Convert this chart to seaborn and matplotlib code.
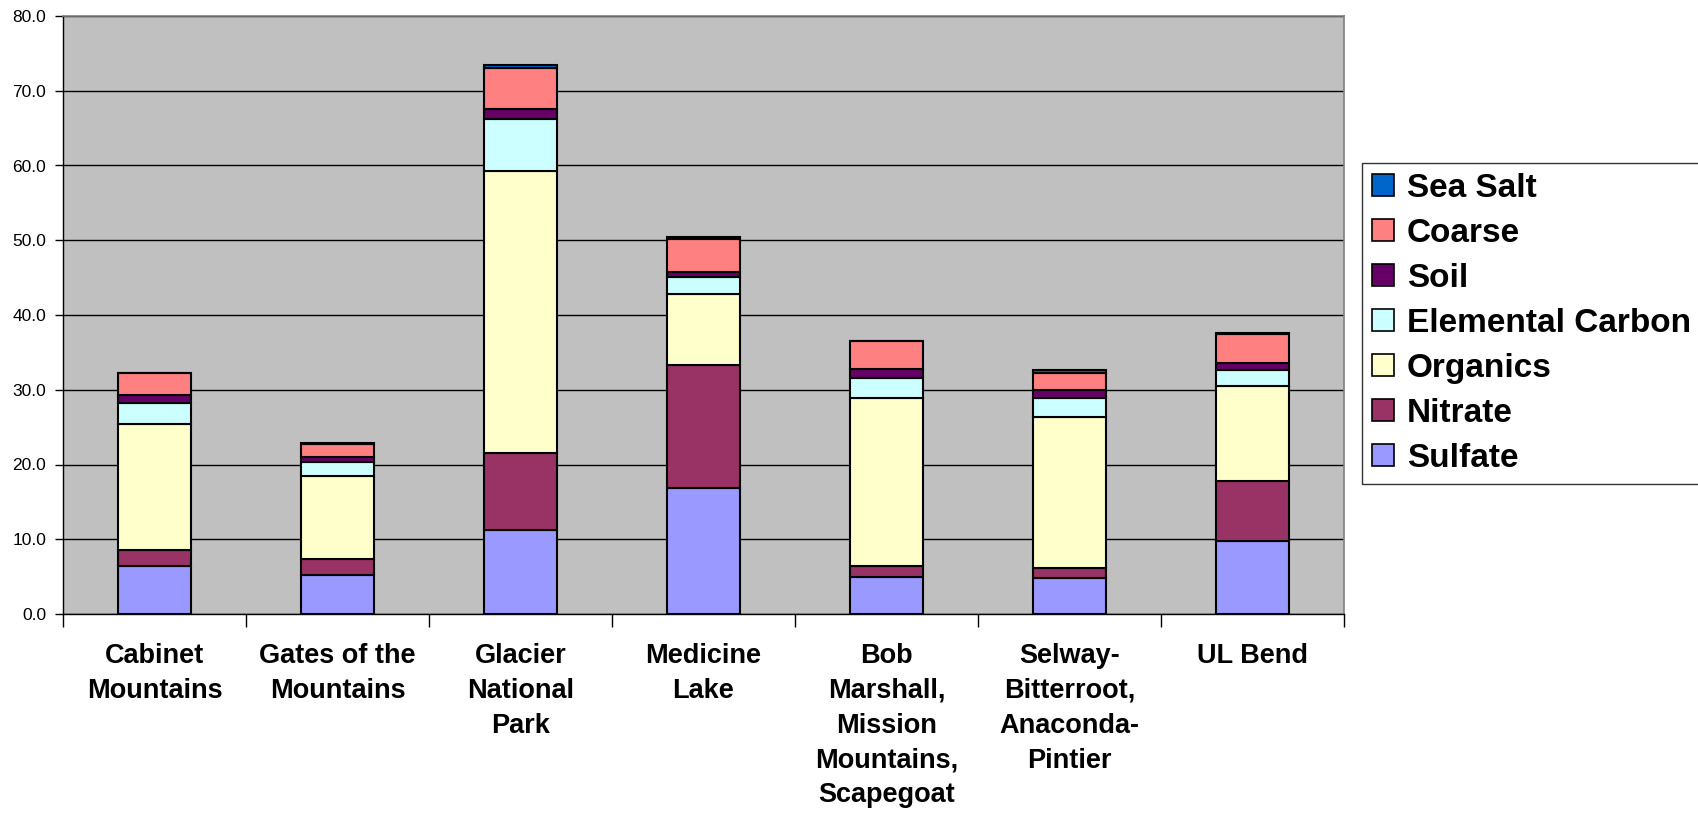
import numpy as np
import pandas as pd
import matplotlib
matplotlib.use("Agg")
import matplotlib.pyplot as plt
from matplotlib.patches import Patch
import seaborn as sns

sites = ["Cabinet\nMountains", "Gates of the\nMountains", "Glacier\nNational\nPark",
         "Medicine\nLake", "Bob\nMarshall,\nMission\nMountains,\nScapegoat",
         "Selway-\nBitterroot,\nAnaconda-\nPintier", "UL Bend"]

sulfate = [6.4, 5.2, 11.3, 16.9, 5.0, 4.8, 9.7]
nitrate = [2.2, 2.2, 10.2, 16.4, 1.4, 1.4, 8.1]
organics = [16.8, 11.0, 37.7, 9.5, 22.5, 20.2, 12.7]
elemental_carbon = [2.8, 1.9, 7.0, 2.3, 2.7, 2.5, 2.1]
soil = [1.1, 0.7, 1.4, 0.7, 1.2, 1.0, 1.0]
coarse = [2.9, 1.8, 5.5, 4.4, 3.7, 2.4, 3.9]
sea_salt = [0.05, 0.05, 0.4, 0.3, 0.05, 0.3, 0.05]

components = ["Sea Salt", "Coarse", "Soil", "Elemental Carbon", "Organics", "Nitrate", "Sulfate"]
colors = ["#0066CC", "#FF8080", "#660066", "#CCFFFF", "#FFFFCC", "#993366", "#9999FF"]
series = [sea_salt, coarse, soil, elemental_carbon, organics, nitrate, sulfate]

rows = []
for comp, vals in zip(components, series):
    for i, v in enumerate(vals):
        rows.append({"pos": i, "component": comp, "value": v})
df = pd.DataFrame(rows)

fig = plt.figure(figsize=(16.99, 8.17), dpi=100)
ax = fig.add_axes([63 / 1699, 1 - 614 / 817, (1344 - 63) / 1699, (614 - 16) / 817])
ax.set_facecolor("#C0C0C0")

# last hue level ends up at the bottom of the stack
sns.histplot(data=df, x="pos", weights="value", hue="component", hue_order=components,
             palette=dict(zip(components, colors)), multiple="stack", discrete=True,
             shrink=0.4, alpha=1, edgecolor="black", linewidth=1.5, legend=False, ax=ax)

ax.set_xlim(-0.5, len(sites) - 0.5)
ax.set_ylim(0, 80)
ax.set_yticks(np.arange(0, 81, 10))
ax.set_yticklabels([f"{t:.1f}" for t in np.arange(0, 81, 10)], fontsize=12.5,
                   family="Liberation Sans")
ax.yaxis.grid(True, color="black", linewidth=1)
ax.set_axisbelow(True)

ax.set_xticks(np.arange(-0.5, len(sites), 1))
ax.set_xticklabels([])
ax.set_xticks(np.arange(len(sites)), minor=True)
ax.set_xticklabels(sites, minor=True, fontsize=19.5, fontweight="bold",
                   family="Liberation Sans", linespacing=1.44, va="top")
ax.tick_params(axis="x", which="major", length=9, width=1, direction="out")
ax.tick_params(axis="x", which="minor", length=0, pad=21)
ax.tick_params(axis="y", length=6, width=1, pad=6)
ax.set_xlabel("")
ax.set_ylabel("")

for s in ["top", "right"]:
    ax.spines[s].set_color("#808080")
    ax.spines[s].set_linewidth(1.2)
for s in ["left", "bottom"]:
    ax.spines[s].set_color("black")
    ax.spines[s].set_linewidth(1)

handles = [Patch(facecolor=c, edgecolor="black", linewidth=1.2) for c in colors]
leg = fig.legend(handles, components, loc="upper left",
                 bbox_to_anchor=(1362 / 1699, 1 - 163 / 817),
                 prop={"family": "Liberation Sans", "weight": "bold", "size": 24},
                 frameon=True, fancybox=False, edgecolor="black",
                 handlelength=0.65, handleheight=0.65, handletextpad=0.4,
                 labelspacing=0.42, borderpad=0.3, borderaxespad=0)
leg.get_frame().set_linewidth(1)

fig.savefig("out.png", dpi=100)
